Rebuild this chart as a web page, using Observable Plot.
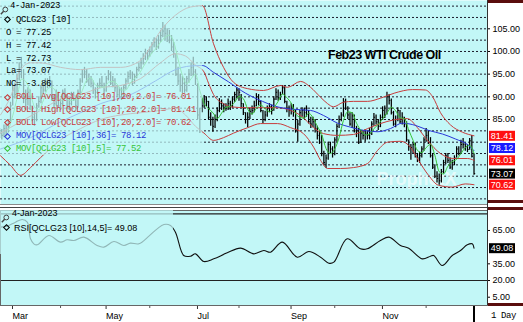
<!DOCTYPE html>
<html>
<head>
<meta charset="utf-8">
<script src="https://cdn.jsdelivr.net/npm/d3@7"></script>
<script src="https://cdn.jsdelivr.net/npm/@observablehq/plot@0.6"></script>
<style>
  html, body { margin: 0; padding: 0; background: #ffffff; }
  #chart { position: relative; width: 523px; height: 322px; overflow: hidden; background: #ffffff; }
  #chart > svg { position: absolute; left: 0; }
  .deco { position: absolute; }
  .veil { position: absolute; background: rgba(194, 247, 247, 0.72); }
  .lg { position: absolute; white-space: pre; line-height: 9px; height: 9px; }
  .mono { font-family: "Liberation Mono", "DejaVu Sans Mono", monospace; font-size: 9px; letter-spacing: -0.4px; }
  .sans { font-family: "Liberation Sans", Arial, sans-serif; font-size: 9px; }
  .dia { position: absolute; width: 3px; height: 3px; border: 1.3px solid; transform: rotate(45deg); background: transparent; }
</style>
</head>
<body>
<div id="chart"></div>
<script>
// ---------------- DATA ----------------
// x = trading-day index: 0 = 1 Mar 2022 ... 213 = 4 Jan 2023. Bars start at -5 (22 Feb 2022).
const firstDay = -5;
const highs = [
  83.0, 82.8, 83.8, 84.0, 85.0, 88.8, 92.5, 93.0, 94.8, 97.5,
  98.7, 96.0, 91.5, 92.0, 91.5, 88.0, 86.5, 88.5, 90.0, 92.5,
  93.0, 94.0, 94.0, 94.5, 93.5, 90.5, 91.5, 91.0, 89.5, 91.5,
  91.8, 90.5, 89.5, 91.0, 91.0, 90.0, 91.5, 94.0, 96.0, 96.5,
  96.0, 95.0, 94.5, 93.5, 92.0, 93.0, 94.0, 94.5, 93.0, 94.5,
  95.8, 95.5, 94.5, 94.0, 92.5, 92.0, 92.0, 92.5, 94.0, 95.5,
  95.8, 95.5, 95.0, 96.5, 97.5, 98.5, 99.5, 100.5, 100.2, 101.0,
  102.0, 103.0, 102.8, 103.5, 104.6, 106.4, 105.8, 105.0, 104.6, 103.5,
  102.0, 99.5, 96.5, 95.0, 94.5, 94.0, 94.5, 96.0, 97.5, 98.7,
  96.0, 92.9, 87.5, 89.5, 90.3, 90.0, 89.0, 86.5, 85.5, 86.0,
  87.6, 89.6, 89.3, 88.5, 88.5, 89.5, 89.0, 90.0, 91.0, 92.0,
  91.8, 90.5, 88.5, 86.5, 86.5, 87.5, 88.0, 89.0, 90.7, 90.5,
  89.0, 87.0, 86.8, 88.0, 88.5, 88.2, 90.0, 91.8, 91.5, 91.0,
  92.5, 92.3, 89.0, 88.0, 88.5, 88.3, 87.0, 84.8, 87.0, 87.6,
  87.5, 88.0, 87.0, 85.5, 85.5, 85.0, 83.5, 82.5, 81.5, 78.0,
  77.2, 80.0, 80.0, 79.0, 81.0, 84.0, 85.8, 86.5, 89.6, 89.5,
  87.8, 86.5, 86.5, 86.0, 83.5, 83.0, 82.5, 82.5, 82.8, 82.5,
  83.0, 84.5, 86.3, 86.0, 85.0, 86.0, 87.8, 88.0, 91.0, 90.5,
  89.5, 86.8, 85.8, 87.6, 87.0, 86.5, 85.5, 84.5, 80.5, 79.5,
  80.0, 79.8, 77.5, 77.8, 79.0, 81.0, 83.0, 82.5, 81.0, 77.5,
  75.0, 73.5, 73.0, 74.0, 76.0, 77.5, 77.5, 76.5, 76.0, 77.0,
  79.0, 79.0, 80.4, 80.8, 79.8, 79.5, 80.8, 81.5, 77.42
];
const lows = [
  80.8, 80.5, 81.0, 81.2, 82.0, 84.5, 88.0, 89.5, 90.5, 93.5,
  94.0, 88.5, 87.0, 88.0, 87.0, 84.5, 83.5, 84.5, 87.5, 88.5,
  90.5, 91.0, 91.8, 92.0, 89.0, 87.5, 88.0, 87.5, 87.0, 88.0,
  89.5, 87.2, 87.0, 88.0, 89.0, 87.0, 87.5, 90.5, 93.0, 94.0,
  93.0, 92.5, 92.0, 90.5, 89.5, 90.5, 91.8, 92.0, 90.0, 91.0,
  93.5, 92.5, 92.0, 91.0, 89.8, 89.5, 89.2, 89.5, 91.5, 93.0,
  93.8, 92.5, 92.8, 94.0, 95.5, 96.0, 97.0, 98.0, 98.0, 98.7,
  99.5, 100.8, 100.2, 100.5, 102.0, 103.0, 102.5, 102.0, 101.7, 100.0,
  98.5, 94.5, 92.5, 91.0, 90.7, 90.8, 91.0, 93.0, 94.5, 94.5,
  92.5, 85.0, 81.9, 86.5, 87.5, 87.8, 85.0, 83.5, 82.2, 83.0,
  84.5, 86.5, 87.0, 86.5, 86.8, 87.0, 87.0, 87.5, 88.8, 89.5,
  89.0, 87.5, 85.9, 84.0, 83.2, 85.0, 86.0, 86.5, 87.8, 88.0,
  86.5, 84.1, 84.5, 85.5, 86.5, 86.0, 86.8, 89.2, 89.0, 89.2,
  90.5, 88.5, 86.5, 85.5, 86.0, 85.5, 82.0, 80.0, 83.5, 85.5,
  85.0, 85.5, 84.0, 83.0, 83.2, 82.0, 80.5, 79.5, 76.8, 74.8,
  74.2, 76.0, 77.5, 76.5, 77.0, 80.0, 83.0, 84.5, 85.5, 87.0,
  85.0, 83.5, 83.0, 82.0, 81.0, 79.5, 79.7, 80.5, 80.0, 80.5,
  80.5, 81.5, 83.5, 83.8, 82.6, 83.2, 84.8, 85.2, 86.0, 88.2,
  86.0, 83.5, 83.2, 84.5, 84.0, 83.8, 83.2, 80.0, 78.0, 76.0,
  77.5, 76.5, 75.5, 75.3, 76.5, 78.0, 80.0, 79.5, 76.5, 74.0,
  72.0, 71.0, 70.5, 71.0, 73.0, 75.0, 75.3, 74.0, 73.8, 74.8,
  76.5, 77.0, 77.5, 78.5, 78.0, 77.7, 78.2, 76.5, 72.73
];
const closes = [
  82.0, 81.5, 83.0, 82.0, 84.5, 88.0, 91.5, 90.5, 94.0, 96.5,
  97.0, 90.0, 89.5, 91.0, 88.0, 85.5, 85.0, 88.0, 89.0, 92.0,
  91.5, 93.5, 92.5, 93.5, 89.5, 88.5, 91.0, 88.0, 88.5, 91.0,
  90.0, 88.0, 88.5, 90.5, 89.5, 88.0, 91.0, 93.5, 95.0, 95.5,
  93.5, 94.0, 93.0, 91.5, 91.0, 92.5, 93.0, 92.5, 91.5, 94.0,
  95.0, 93.0, 93.5, 92.0, 90.5, 91.5, 90.0, 92.0, 93.5, 94.5,
  95.0, 93.0, 94.5, 96.0, 96.5, 97.5, 98.5, 99.5, 99.0, 100.0,
  101.5, 102.0, 101.0, 102.5, 103.5, 104.5, 104.0, 103.5, 102.5, 101.0,
  99.5, 95.0, 93.5, 92.5, 93.0, 91.5, 94.0, 95.0, 96.5, 95.5,
  94.0, 86.0, 85.0, 88.0, 89.5, 89.0, 85.5, 85.0, 83.5, 85.0,
  87.0, 88.5, 88.0, 87.5, 87.5, 88.5, 88.0, 89.5, 90.5, 91.5,
  91.0, 88.5, 86.5, 85.0, 85.5, 86.8, 87.0, 88.0, 90.0, 89.0,
  87.0, 85.0, 86.0, 87.5, 87.8, 87.0, 89.5, 91.0, 89.8, 90.5,
  92.0, 89.0, 87.5, 87.0, 87.5, 87.2, 82.5, 84.0, 86.5, 87.0,
  86.5, 87.5, 84.5, 84.0, 84.5, 83.0, 81.5, 82.0, 77.5, 75.5,
  76.5, 79.5, 78.5, 77.5, 80.5, 83.5, 85.0, 86.0, 89.0, 87.5,
  86.0, 84.0, 85.8, 82.5, 82.5, 80.0, 82.0, 81.5, 82.0, 81.5,
  82.0, 84.0, 85.5, 84.5, 83.5, 85.5, 87.0, 86.0, 90.0, 89.2,
  86.5, 84.0, 85.0, 87.0, 84.5, 85.5, 84.0, 80.5, 79.0, 78.8,
  79.5, 77.0, 76.5, 77.0, 78.5, 80.5, 81.5, 80.0, 77.0, 74.5,
  72.5, 72.0, 71.5, 73.5, 75.5, 77.0, 76.0, 74.5, 75.5, 76.5,
  78.5, 77.5, 79.5, 79.5, 79.0, 78.4, 80.3, 76.9, 73.07
];

// MOV 5 — read every second trading day, from day -1 to day 213
const ma5FirstDay = -1;
const ma5 = [
  82.6, 85.8, 89.7, 93.9, 93.4, 91.1, 87.8, 87.1, 89.1, 91.7,
  92.1, 91.0, 89.1, 89.7, 89.2, 89.3, 89.5, 91.4, 93.7, 94.2,
  92.6, 92.2, 92.1, 93.2, 93.4, 92.8, 91.5, 91.5, 93.0, 94.1,
  95.0, 96.6, 98.2, 99.7, 100.7, 102.1, 103.1, 103.6, 102.1, 98.3,
  94.7, 92.9, 94.0, 95.0, 91.4, 88.5, 87.4, 86.5, 85.2, 86.4,
  87.7, 87.9, 88.8, 90.1, 89.6, 87.3, 86.2, 87.5, 88.2, 87.4,
  86.7, 87.6, 89.0, 90.6, 89.8, 88.6, 86.3, 85.5, 85.3, 86.4,
  85.4, 83.5, 81.7, 78.6, 77.5, 78.5, 81.0, 84.8, 86.7, 86.5,
  84.2, 82.6, 81.6, 81.8, 83.0, 83.9, 85.2, 86.4, 87.7, 86.9,
  85.4, 85.2, 82.7, 80.4, 78.2, 77.7, 78.8, 79.5, 77.1, 73.5,
  73.0, 74.7, 75.7, 76.2, 77.5, 78.8, 79.3, 77.52
];

// Bollinger (20, 2.0) and MOV 36, read as [day, value] vertices
const bollHigh = [
  [-4.6, 86.0], [0, 90.0], [4.6, 96.0], [9.2, 97.5], [13.8, 97.5], [23, 96.5], [32.2, 96.0],
  [41.4, 96.5], [50.6, 96.5], [59.7, 98.0], [64.3, 101.0], [68.9, 104.5], [75.8, 108.0],
  [82.7, 109.8], [88.2, 110.1], [93.3, 101.7], [97.9, 96.5], [102.5, 93.2], [109, 91.8],
  [116.3, 91.4], [124.1, 92.5], [127.3, 92.1], [133.3, 93.4], [137.9, 92.1], [142.5, 89.9],
  [145.7, 88.5], [148.4, 87.8], [153, 88.8], [157.6, 89.0], [164.1, 89.0], [170, 89.7],
  [176.3, 90.8], [184.7, 91.6], [190.7, 91.5], [194, 90.0], [197.6, 86.5], [202.2, 83.8],
  [207.7, 82.2], [213, 81.41]
];
const bollAvg = [
  [-4.6, 82.0], [4.6, 84.5], [13.8, 87.0], [23, 89.5], [32.2, 90.5], [41.4, 92.0], [50.6, 92.5],
  [59.7, 94.0], [68.9, 97.5], [75.8, 99.5], [80.4, 99.0], [85, 97.0], [88.9, 95.5], [91, 93.0],
  [93.3, 90.5], [97.9, 88.5], [101.1, 87.8], [109, 87.6], [116.3, 87.6], [122.7, 87.6],
  [128.7, 87.0], [133.3, 85.9], [139.3, 83.2], [143.8, 81.9], [150.3, 81.5], [157.6, 81.7],
  [164.1, 83.0], [170, 84.1], [176, 84.9], [182.4, 85.2], [187, 83.2], [191.6, 80.4],
  [197.6, 77.5], [203.6, 76.4], [210, 76.4], [213, 76.01]
];
const bollLow = [
  [-4.6, 77.0], [0, 74.9], [4.6, 72.7], [9.2, 74.4], [13.8, 76.6], [18.4, 78.6], [23, 80.5],
  [32.2, 83.0], [41.4, 85.0], [50.6, 86.0], [59.7, 86.5], [68.9, 87.0], [75.8, 87.5], [80.4, 86.0],
  [85, 83.5], [88.9, 82.0], [93.3, 80.4], [97.9, 81.0], [102.5, 82.0], [109, 83.2], [114.9, 84.1],
  [122.7, 84.1], [128.7, 83.2], [134.6, 81.9], [139.3, 78.9], [142.5, 76.0], [145.7, 74.2],
  [151.7, 74.2], [157.6, 74.4], [164.1, 75.3], [168.7, 78.2], [173.3, 80.0], [179.2, 80.2],
  [183.8, 78.9], [187.5, 76.0], [192.1, 72.7], [196.7, 70.5], [203, 70.1], [209, 70.8], [213, 70.62]
];
const mov36 = [
  [-4.6, 78.5], [9.2, 81.0], [23, 84.5], [32.2, 86.5], [41.4, 88.5], [55.3, 90.5], [66.6, 93.5],
  [75.8, 96.0], [82.7, 96.8], [88.2, 96.9], [93.3, 95.4], [100.2, 93.3], [108, 90.8], [115.8, 89.0],
  [121.8, 87.9], [128.7, 87.3], [137.9, 87.0], [143.8, 85.9], [150.3, 84.2], [156.3, 83.3],
  [162.3, 82.6], [168.7, 82.3], [174.6, 83.0], [180.1, 84.2], [186.1, 83.7], [192.1, 82.6],
  [198.5, 81.8], [204.5, 80.7], [210.5, 79.3], [213, 78.12]
];
// RSI (14,5) vertices [day, value]
const rsi = [
  [-4.6, 68.0], [-1.5, 68.9], [2.3, 72.5], [5.4, 74.9], [7.7, 72.5], [9.2, 57.5], [10.7, 53.0],
  [12.3, 52.1], [17.6, 60.5], [23, 54.5], [26, 56.6], [29.1, 56.0], [33.7, 59.0], [39.8, 51.5],
  [42.9, 50.0], [47.5, 55.1], [52.1, 51.5], [55.1, 53.6], [59, 53.0], [63.6, 59.9], [67.4, 66.5],
  [70.5, 70.4], [73.5, 69.5], [75.8, 63.5], [79.6, 42.5], [82.7, 41.9], [85, 44.0], [88.8, 37.1],
  [93.4, 39.5], [99.6, 44.9], [105.7, 49.1], [111.8, 44.0], [116.4, 47.0], [119.5, 45.5],
  [124.9, 54.5], [131.8, 41.0], [137.1, 46.1], [142.5, 41.0], [146.3, 35.6], [148.6, 36.5],
  [154.7, 57.5], [160.8, 48.5], [163.9, 48.5], [170, 56.0], [173.9, 59.0], [179.2, 51.5],
  [183, 49.1], [189.2, 39.5], [193, 41.9], [194.5, 42.5], [198.4, 33.5], [203, 42.5],
  [206.8, 47.0], [209.9, 52.1], [212.2, 53.0], [213, 49.08]
];

// last values shown in the right-hand boxes
const lastLabels = ["81.41", "78.12", "76.01", "73.07", "70.62"];
const lastValues = [81.41, 78.12, 76.01, 73.07, 70.62];
const lastSeries = ["bollHigh", "mov36", "bollAvg", "price", "bollLow"];
const rsiLast = 49.08;

// axes
const priceTicks = [85, 90, 95, 100, 105];
const gridLevels = [67.5, 70, 72.5, 75, 77.5, 80, 82.5, 85, 87.5, 90, 92.5, 95, 97.5, 100, 102.5, 105, 107.5, 110];
const rsiTicks = [5, 20, 35, 65];
const rsiLevels = [20, 80];
const monthDays = [0, 43, 85, 128, 170];
const monthLabels = ["Mar", "May", "Jul", "Sep", "Nov"];
const minorMonthDays = [23, 64, 105, 149, 191];
const lastDay = [213];

// ---------------- STYLE ----------------
const BG = "#c2f7f7";
const RED = "#c83c3c";
const BLUE = "#2a36d8";
const GREEN = "#36c436";
const boxColor = {bollHigh: "#ff1010", mov36: "#1a1aff", bollAvg: "#ff1010", price: "#000000", bollLow: "#ff1010"};
const FONT = "'Liberation Sans', Arial, sans-serif";
const xDomain = [-4.6, 219.2];
const boxSymbol = {draw(ctx) { ctx.rect(-13, -5, 26, 10); }};

const bars = closes.map((c, i) => ({day: firstDay + i, high: highs[i], low: lows[i], close: c}));
const ma5Pts = ma5.map((v, i) => [ma5FirstDay + 2 * i, v]);
const boxes = lastValues.map((v, i) => ({v, label: lastLabels[i], series: lastSeries[i]}));
const boxesMain = boxes.filter(b => b.series !== "mov36");
const boxesMov = boxes.filter(b => b.series === "mov36");

const lineOpts = (color) => ({x: d => d[0], y: d => d[1], stroke: color, strokeWidth: 1, curve: "monotone-x", clip: true});

const mainPlot = Plot.plot({
  width: 523, height: 206,
  marginLeft: 0, marginRight: 36, marginTop: 0, marginBottom: 2,
  style: {background: "transparent", fontFamily: FONT, fontSize: "9px", color: "#000", overflow: "visible"},
  x: {domain: xDomain, axis: null},
  y: {domain: [66.26, 111.24]},
  marks: [
    Plot.frame({fill: BG, stroke: null}),
    Plot.ruleY(gridLevels, {stroke: "#1c1c2c", strokeWidth: 1, strokeDasharray: "2,2"}),
    Plot.text(["ProphetX"], {frameAnchor: "top-left", dx: 376, dy: 172, textAnchor: "start",
      fill: "#ffffff", fillOpacity: 0.6, fontSize: 18, fontWeight: "bold", fontFamily: FONT}),
    Plot.ruleX(bars, {x: "day", y1: "low", y2: "high", stroke: "#000", strokeWidth: 1.25, clip: true}),
    Plot.link(bars, {x1: "day", x2: d => d.day + 0.55, y1: "close", y2: "close", stroke: "#000", strokeWidth: 1, clip: true}),
    Plot.line(bollHigh, lineOpts(RED)),
    Plot.line(bollAvg, lineOpts(RED)),
    Plot.line(bollLow, lineOpts(RED)),
    Plot.line(mov36, lineOpts(BLUE)),
    Plot.line(ma5Pts, lineOpts(GREEN)),
    Plot.axisY({anchor: "right", ticks: priceTicks, tickFormat: d => d.toFixed(2), tickSize: 2, tickPadding: 3,
      fontSize: 9, fontFamily: FONT, label: null}),
    Plot.dot(boxesMain, {y: "v", frameAnchor: "right", dx: 14.5, symbol: boxSymbol, r: 5,
      fill: d => boxColor[d.series], stroke: null}),
    Plot.dot(boxesMov, {y: "v", frameAnchor: "right", dx: 14.5, dy: -2.7, symbol: boxSymbol, r: 5,
      fill: d => boxColor[d.series], stroke: null}),
    Plot.text(boxesMain, {y: "v", text: "label", frameAnchor: "right", dx: 14.5, textAnchor: "middle",
      fill: "#ffffff", fontSize: 9, fontFamily: FONT}),
    Plot.text(boxesMov, {y: "v", text: "label", frameAnchor: "right", dx: 14.5, dy: -2.7, textAnchor: "middle",
      fill: "#ffffff", fontSize: 9, fontFamily: FONT})
  ]
});

const monthName = new Map(monthDays.map((d, i) => [d, monthLabels[i]]));

const rsiPlot = Plot.plot({
  width: 523, height: 116,
  marginLeft: 0, marginRight: 36, marginTop: 4, marginBottom: 17,
  style: {background: "transparent", fontFamily: FONT, fontSize: "9px", color: "#000", overflow: "visible"},
  x: {domain: xDomain},
  y: {domain: [-2.46, 82.97]},
  marks: [
    Plot.frame({fill: BG, stroke: null}),
    Plot.ruleY(rsiLevels, {stroke: "#222", strokeWidth: 1.2}),
    Plot.line(rsi, {x: d => d[0], y: d => d[1], stroke: "#111", strokeWidth: 1.1, curve: "catmull-rom", clip: true}),
    Plot.axisY({anchor: "right", ticks: rsiTicks, tickFormat: d => d.toFixed(2), tickSize: 2, tickPadding: 3,
      fontSize: 9, fontFamily: FONT, label: null}),
    Plot.dot([rsiLast], {y: d => d, frameAnchor: "right", dx: 14.5, symbol: boxSymbol, r: 5, fill: "#000", stroke: null}),
    Plot.text([rsiLast], {y: d => d, text: d => d.toFixed(2), frameAnchor: "right", dx: 14.5, textAnchor: "middle",
      fill: "#fff", fontSize: 9, fontFamily: FONT}),
    Plot.axisX({ticks: monthDays, tickFormat: d => monthName.get(d), tickSize: 4, tickPadding: 3,
      textAnchor: "start", dx: 2, fontSize: 9, fontFamily: FONT, label: null, stroke: "#333"}),
    Plot.axisX({ticks: minorMonthDays, tickFormat: () => "", tickSize: 3, label: null, stroke: "#555"}),
    Plot.axisX({ticks: lastDay, tickFormat: () => "", tickSize: 17, label: null, stroke: "#000", strokeWidth: 2}),
    Plot.frame({stroke: "#666", strokeWidth: 1})
  ]
});

// ---------------- LAYOUT ----------------
const chart = document.getElementById("chart");
mainPlot.style.top = "0px";
rsiPlot.style.top = "206px";
chart.appendChild(mainPlot);
chart.appendChild(rsiPlot);

function deco(cls, css, html) {
  const el = document.createElement("div");
  el.className = cls;
  Object.assign(el.style, css);
  if (html != null) el.innerHTML = html;
  chart.appendChild(el);
  return el;
}
// panel borders & right column bands
deco("deco", {left: "487px", top: "0px", width: "1px", height: "305px", background: "#333"});
deco("deco", {left: "0px", top: "204px", width: "487px", height: "1px", background: "#8a8a8a"});
deco("deco", {left: "0px", top: "207px", width: "487px", height: "1px", background: "#444"});
const MAROON = "#5a0d0d";
[[0, 3], [200, 3], [207, 3], [303, 3]].forEach(([t, h]) =>
  deco("deco", {left: "488px", top: t + "px", width: "35px", height: h + "px", background: MAROON}));

// legend veils
deco("veil", {left: "0px", top: "0px", width: "202px", height: "155px"});
deco("veil", {left: "0px", top: "210px", width: "173px", height: "44px"});

// main legend
const legendMain = [
  "4-Jan-2023", "QCLG23 [10]", "O = 77.25", "H = 77.42", "L = 72.73", "La= 73.07", "NC= -3.86",
  "BOLL Avg[QCLG23 [10],20,2.0]= 76.01", "BOLL High[QCLG23 [10],20,2.0]= 81.41",
  "BOLL Low[QCLG23 [10],20,2.0]= 70.62", "MOV[QCLG23 [10],36]= 78.12", "MOV[QCLG23 [10],5]= 77.52"
];
const rowY = [6, 20, 33.5, 46, 59, 71.5, 84, 97.5, 110, 123, 136.5, 149];
const rowColor = ["#000", "#000", "#000", "#000", "#000", "#000", "#000", RED, RED, RED, BLUE, GREEN];
const rowDia = [false, true, false, false, false, false, false, true, true, true, true, true];
const rowX = [10, 16, 6, 6, 6, 6, 6, 16, 16, 16, 16, 16];
const mag = '<svg width="9" height="9" viewBox="0 0 9 9"><circle cx="5.3" cy="3.5" r="2.4" fill="none" stroke="#444" stroke-width="1"/><line x1="3.6" y1="5.2" x2="0.8" y2="8.2" stroke="#444" stroke-width="1.4"/></svg>';
legendMain.forEach((t, i) => {
  const el = deco("lg mono", {left: rowX[i] + "px", top: (rowY[i] - 4.5) + "px", color: rowColor[i]});
  el.textContent = t;
  if (rowDia[i]) deco("dia", {left: "5px", top: (rowY[i] - 3) + "px", borderColor: rowColor[i]});
});
deco("deco", {left: "0px", top: "1px", width: "9px", height: "9px"}, mag);

// RSI legend
deco("deco", {left: "1px", top: "209px", width: "9px", height: "9px"}, mag);
deco("lg sans", {left: "12px", top: "208.5px", color: "#000"}).textContent = "4-Jan-2023";
deco("dia", {left: "4px", top: "225px", borderColor: "#000"});
deco("lg sans", {left: "14px", top: "223.5px", color: "#000"}).textContent = "RSI[QCLG23 [10],14,5]= 49.08";

// title
deco("lg", {left: "328px", top: "48px", height: "14px", lineHeight: "14px", fontFamily: FONT, fontWeight: "bold",
  fontSize: "12.5px", letterSpacing: "-0.5px", color: "#000"}).textContent = "Feb23 WTI Crude Oil";

// period label
deco("lg mono", {left: "491px", top: "311.5px", color: "#000"}).textContent = "1 Day";
</script>
</body>
</html>
